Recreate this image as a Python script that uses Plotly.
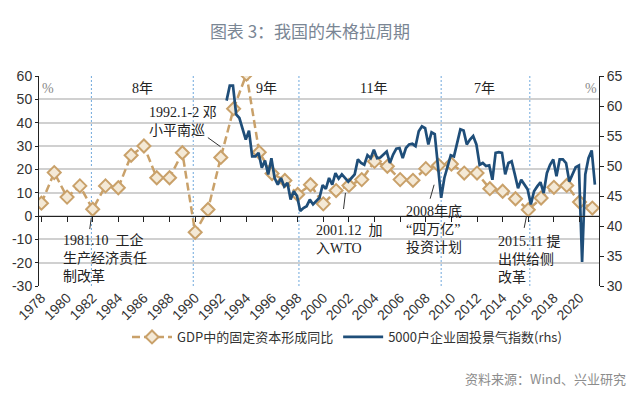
import plotly.graph_objects as go

# ---------------- data ----------------
gdp_years = list(range(1978, 2022))
gdp_fcf_yoy = [5.5, 18.6, 8.1, 12.9, 2.9, 12.9, 12.1, 26.0, 30.0, 16.4, 16.4, 27.1,
               -7.0, 2.8, 25.1, 46.0, 60.8, 27.3, 18.2, 15.2, 9.2, 13.4, 5.2, 10.9,
               13.1, 15.6, 23.4, 21.3, 15.6, 15.3, 20.3, 21.7, 22.3, 18.4, 18.4, 11.7,
               10.6, 7.4, 2.7, 7.7, 12.3, 13.1, 6.0, 3.4]

# quarterly index, starting 1992Q2
blue_start_year, blue_start_q = 1992, 2
blue_index = [60.9, 63.4, 63.4,
              58.6, 58.0, 56.3, 54.4,
              55.9, 51.6, 51.6, 52.2,
              49.7, 50.9, 48.6, 51.3,
              48.0, 46.9, 48.0, 46.6,
              47.2, 44.4, 45.8, 45.0,
              42.5, 43.0, 43.3, 44.4,
              43.6, 44.1, 44.7, 46.8,
              46.2, 48.0, 46.9, 48.8,
              47.9, 48.6, 48.0, 47.4,
              48.0, 48.6, 51.1, 50.5,
              50.2, 51.8, 51.3, 52.7,
              51.3, 51.4, 51.9, 52.4,
              50.5, 51.9, 52.9, 53.0,
              51.3, 53.0, 53.6, 53.7,
              53.3, 55.8, 56.6, 56.3,
              53.6, 55.6, 55.3, 50.2,
              44.7, 48.0, 50.1, 51.8,
              51.6, 54.1, 56.1, 55.9,
              53.6, 54.4, 55.0, 53.6,
              50.2, 50.5, 50.0, 50.1,
              47.7, 52.2, 52.3, 52.2,
              48.6, 50.5, 50.8, 48.6,
              46.3, 47.7, 46.9, 46.1,
              43.6, 45.8, 46.6, 47.3,
              45.5, 48.8, 50.2, 51.1,
              48.3, 51.1, 51.1, 50.5,
              47.4, 48.6, 49.8, 50.1,
              34.0, 48.6, 51.3, 52.6,
              46.9]

blue_x = []
y_, q_ = blue_start_year, blue_start_q
for _ in blue_index:
    blue_x.append(y_ + 0.2 + 0.25 * (q_ - 1))
    q_ += 1
    if q_ > 4:
        q_, y_ = 1, y_ + 1

x_tick_years = list(range(1978, 2021, 2))
left_ticks = [60, 50, 40, 30, 20, 10, 0, -10, -20, -30]
left_tick_text = ["60", "50", "40", "30", "20", "10", "0", "-10", "-20", "-30"]
right_ticks = [65, 60, 55, 50, 45, 40, 35, 30]

cycle_boundaries = [1981.9, 1989.85, 1998.1, 2009.2, 2016.12]
cycle_labels = ["8年", "9年", "11年", "7年"]
cycle_label_x = [1985.92, 1995.58, 2003.92, 2012.57]

events = [
    ("1981.10  工企<br>生产经济责任<br>制改革", 1979.51, -18.0),
    ("1992.1-2 邓<br>小平南巡", 1986.23, 40.3),
    ("2001.12  加<br>入WTO", 1999.28, -10.1),
    ("2008年底<br>“四万亿”<br>投资计划", 2006.31, -5.8),
    ("2015.11 提<br>出供给侧<br>改革", 2013.49, -18.7),
]
leaders = [
    (1981.89, -0.9, 1981.77, -5.6),
    (1990.99, 33.6, 1991.98, 29.7),
    (2001.73, 9.9, 2001.58, 3.0),
    (2008.65, 13.4, 2008.34, 7.4),
    (2015.86, -0.1, 2015.68, -5.1),
]

XR = [1977.81, 2021.52]
GOLD = "#C9A16A"
NAVY = "#1F4E79"
SERIF = "Liberation Serif, Noto Sans CJK SC, serif"
SANS = "Liberation Sans, Arial, sans-serif"

fig = go.Figure()
fig.add_trace(go.Scatter(
    x=gdp_years, y=gdp_fcf_yoy, name="GDP中的固定资本形成同比",
    mode="lines+markers",
    line=dict(color=GOLD, width=2.5, dash="8px,4px"),
    marker=dict(symbol="diamond", size=10, color="#F4E9D6",
                line=dict(color=GOLD, width=2)),
    xaxis="x", yaxis="y"))
fig.add_trace(go.Scatter(
    x=blue_x, y=blue_index, name="5000户企业固投景气指数(rhs)",
    mode="lines", line=dict(color=NAVY, width=2.7),
    xaxis="x", yaxis="y2"))
fig.add_trace(go.Scatter(x=[], y=[], xaxis="x2", yaxis="y",
                         showlegend=False, hoverinfo="skip"))

shapes = []
for xb in cycle_boundaries:
    shapes.append(dict(type="line", xref="x", yref="paper", x0=xb, x1=xb, y0=0, y1=1,
                       line=dict(color="#6FA8DC", width=1, dash="2px,2px"), layer="below"))
for x0, y0, x1, y1 in leaders:
    shapes.append(dict(type="line", xref="x", yref="y", x0=x0, y0=y0, x1=x1, y1=y1,
                       line=dict(color="#333333", width=1)))

annotations = []
for lab, lx in zip(cycle_labels, cycle_label_x):
    annotations.append(dict(text=lab, x=lx, y=54.7, xref="x", yref="y", showarrow=False,
                            xanchor="center", yanchor="middle",
                            font=dict(family=SERIF, size=14, color="#222222")))
for px_ in (1978.55, 2020.9):
    annotations.append(dict(text="%", x=px_, y=54.7, xref="x", yref="y", showarrow=False,
                            xanchor="center", yanchor="middle",
                            font=dict(family=SERIF, size=14, color="#8a8a8a")))
for txt, ex, ey in events:
    annotations.append(dict(text=txt, x=ex, y=ey, xref="x", yref="y", showarrow=False,
                            xanchor="left", yanchor="middle", align="left",
                            font=dict(family=SERIF, size=14, color="#222222")))
annotations.append(dict(text="资料来源：Wind、兴业研究", x=(628 - 33) / 566, y=(286 - 378) / 210,
                        xref="paper", yref="paper", showarrow=False,
                        xanchor="right", yanchor="middle",
                        font=dict(family="Noto Sans CJK SC", size=13, color="#8c8c8c")))

fig.update_layout(
    width=644, height=393,
    margin=dict(l=33, r=45, t=76, b=107),
    paper_bgcolor="white", plot_bgcolor="white",
    title=dict(text="图表 3：我国的朱格拉周期", x=310 / 644, xanchor="center",
               y=1 - 32 / 393, yanchor="middle", xref="container", yref="container",
               font=dict(family="Noto Sans CJK SC", size=17, color="#7a8694")),
    xaxis=dict(range=XR, tickvals=x_tick_years, ticktext=[str(v) for v in x_tick_years],
               tickangle=-45, showgrid=False, zeroline=False, showline=False, ticks="",
               tickfont=dict(family=SANS, size=14, color="#333333"), anchor="y"),
    xaxis2=dict(range=XR, overlaying="x", anchor="free", position=1 / 3,
                tickvals=x_tick_years, showticklabels=False, showgrid=False, zeroline=False,
                showline=True, linecolor="#222222", linewidth=1, ticks="outside", ticklen=5,
                tickcolor="#222222"),
    yaxis=dict(range=[-30, 60], tickvals=left_ticks, ticktext=left_tick_text,
               showgrid=True, gridcolor="#D0D0D0", gridwidth=1.5, zeroline=False,
               showline=True, linecolor="#222222", linewidth=1, ticks="outside", ticklen=3,
               tickcolor="#222222", tickfont=dict(family=SANS, size=14, color="#333333")),
    yaxis2=dict(range=[30, 65], tickvals=right_ticks, overlaying="y", side="right",
                anchor="x", showgrid=False, zeroline=False, showline=True,
                linecolor="#222222", linewidth=1, ticks="outside", ticklen=4,
                tickcolor="#222222", tickfont=dict(family=SANS, size=14, color="#333333")),
    legend=dict(orientation="h", x=0.55, xanchor="center", y=(286 - 337) / 210,
                yanchor="middle", font=dict(family="Noto Sans CJK SC", size=13, color="#333333"),
                bgcolor="rgba(0,0,0,0)", itemwidth=40),
    shapes=shapes, annotations=annotations,
    showlegend=True,
)

fig.write_html("out.html", config={"displayModeBar": False},
               post_script="document.body.style.margin='0px';")
